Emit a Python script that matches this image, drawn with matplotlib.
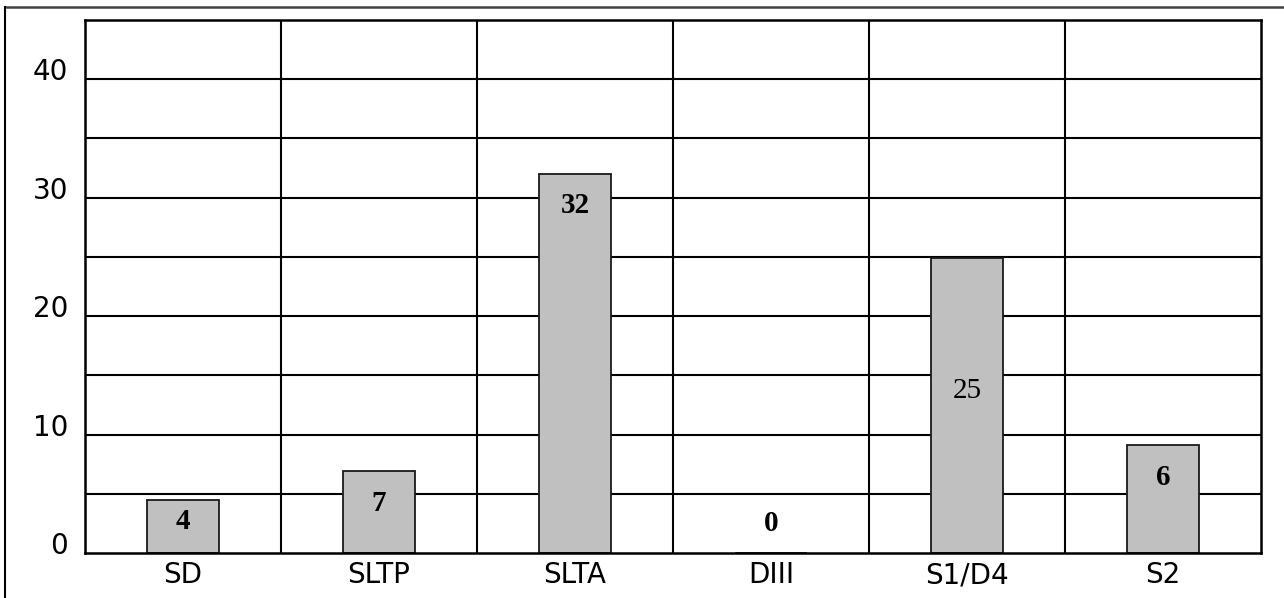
import numpy as np
import matplotlib.pyplot as plt
from matplotlib.lines import Line2D
from matplotlib.transforms import ScaledTranslation

# données
categories = ['SD', 'SLTP', 'SLTA', 'DIII', 'S1/D4', 'S2']
bar_heights = [4.5, 6.9, 32.0, 0.0, 24.9, 9.1]
bar_labels = ['4', '7', '32', '0', '25', '6']
label_bold = [True, True, True, True, False, True]
y_ticks = [0, 10, 20, 30, 40]

W, H = 1284, 598
fig = plt.figure(figsize=(W / 100, H / 100), dpi=100)
ax = fig.add_axes([85 / W, 1 - 553 / H, (1261 - 85) / W, (553 - 20) / H])

x = np.arange(len(categories))

# grille : horizontales tous les 5, verticales entre catégories
for yv in np.arange(5, 45, 5):
    ax.axhline(yv, color='black', lw=1.5, zorder=0)
for xv in x[:-1] + 0.5:
    ax.axvline(xv, color='black', lw=1.5, zorder=0)

ax.bar(x, bar_heights, width=0.37, color='#c0c0c0', edgecolor='#1a1a1a',
       linewidth=1.3, zorder=2)

for i, (h, lab, b) in enumerate(zip(bar_heights, bar_labels, label_bold)):
    weight = 'bold' if b else 'normal'
    kw = dict(ha='center', va='center', fontsize=21, weight=weight,
              family='Liberation Serif', zorder=3)
    if h == 0:
        ax.annotate(lab, (i, 0), xytext=(0, 21), textcoords='offset points', **kw)
    elif not b:
        ax.text(i, h * 0.55, lab, **kw)
    elif h < 6:
        # barre trop courte : étiquette au milieu
        ax.text(i, h * 0.6, lab, **kw)
    else:
        ax.annotate(lab, (i, h), xytext=(0, -23), textcoords='offset points', **kw)

ax.set_xlim(-0.5, len(categories) - 0.5)
ax.set_ylim(0, 45)
ax.set_xticks(x)
ax.set_xticklabels(categories, fontsize=20, family='DejaVu Sans')
ax.set_yticks(y_ticks)
ax.set_yticklabels([str(v) for v in y_ticks], fontsize=20, family='DejaVu Sans')
ax.tick_params(axis='both', length=0)
ax.tick_params(axis='y', pad=12)
ax.tick_params(axis='x', pad=6)

# libellés de l'axe y légèrement remontés comme sur l'original
shift = ScaledTranslation(0, 7 / 72, fig.dpi_scale_trans)
for t in ax.get_yticklabels():
    t.set_transform(t.get_transform() + shift)

for s in ax.spines.values():
    s.set_color('black')
    s.set_linewidth(1.8)

# cadre extérieur (haut et gauche)
fig.add_artist(Line2D([5 / W, 1], [1 - 7 / H, 1 - 7 / H], color='#444444', lw=1.8))
fig.add_artist(Line2D([5 / W, 5 / W], [0, 1 - 7 / H], color='black', lw=1.5))

fig.savefig('out.png', dpi=100)
